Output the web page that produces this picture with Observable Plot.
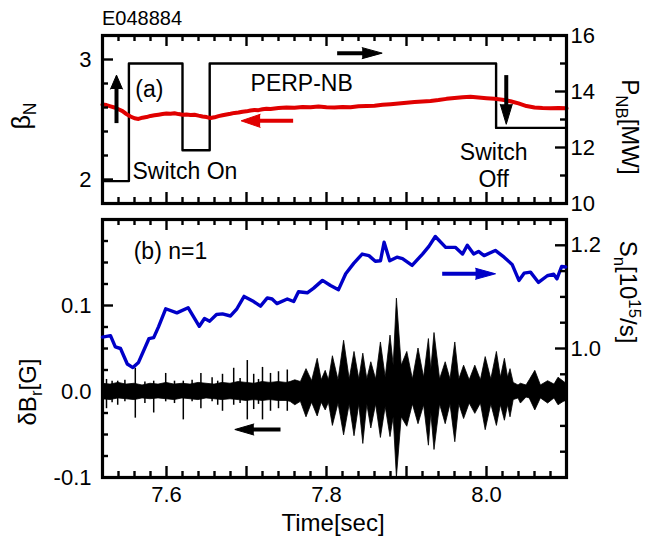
<!DOCTYPE html>
<html><head><meta charset="utf-8">
<script src="https://cdn.jsdelivr.net/npm/d3@7"></script>
<script src="https://cdn.jsdelivr.net/npm/@observablehq/plot@0.6"></script>
<style>
html,body{margin:0;padding:0;background:#fff;}
#wrap{position:relative;width:659px;height:537px;overflow:hidden;font-family:"Liberation Sans",Arial,Helvetica,sans-serif;color:#000;background:#fff;}
#wrap svg{position:absolute;left:0;top:0;}
.lab{position:absolute;white-space:nowrap;font-size:24px;line-height:1;}
.lab sub,.lab sup{font-size:70%;line-height:0;}
</style></head><body><div id="wrap"></div>
<script>
// ---------------- data: panel (a) ----------------
const betaT = [7.520,7.525,7.530,7.535,7.540,7.545,7.550,7.555,7.560,7.565,7.570,7.575,7.580,7.585,7.590,7.595,7.600,7.605,7.610,7.615,7.620,7.625,7.630,7.635,7.640,7.645,7.650,7.655,7.660,7.665,7.670,7.675,7.680,7.685,7.690,7.695,7.700,7.705,7.710,7.715,7.720,7.725,7.730,7.740,7.750,7.760,7.770,7.780,7.790,7.800,7.810,7.820,7.830,7.840,7.850,7.860,7.870,7.880,7.890,7.900,7.910,7.920,7.930,7.940,7.950,7.960,7.970,7.980,7.990,8.000,8.010,8.020,8.030,8.040,8.050,8.060,8.070,8.080,8.090,8.100];
const betaN = [2.625,2.620,2.610,2.600,2.585,2.570,2.545,2.525,2.510,2.505,2.515,2.520,2.530,2.535,2.540,2.545,2.550,2.548,2.552,2.545,2.540,2.542,2.538,2.540,2.532,2.525,2.520,2.512,2.518,2.528,2.535,2.542,2.548,2.555,2.558,2.565,2.568,2.575,2.580,2.578,2.585,2.590,2.588,2.595,2.600,2.598,2.605,2.602,2.608,2.603,2.600,2.605,2.602,2.610,2.612,2.615,2.622,2.628,2.634,2.640,2.645,2.650,2.655,2.662,2.672,2.680,2.686,2.690,2.684,2.678,2.672,2.665,2.652,2.634,2.612,2.600,2.596,2.594,2.596,2.593];
const pnbT  = [7.520, 7.553, 7.620, 7.654, 8.012, 8.100];
const pnbMW = [10.8, 15.0, 11.9, 15.0, 12.7, 12.7];

// ---------------- data: panel (b) ----------------
const snT = [7.520,7.530,7.536,7.5425,7.551,7.558,7.565,7.578,7.584,7.590,7.599,7.613,7.627,7.641,7.6475,7.654,7.6625,7.670,7.680,7.688,7.697,7.709,7.7175,7.726,7.732,7.738,7.751,7.759,7.765,7.776,7.784,7.795,7.805,7.815,7.824,7.834,7.8446,7.853,7.861,7.8675,7.872,7.879,7.888,7.895,7.907,7.920,7.928,7.936,7.949,7.961,7.970,7.976,7.984,7.990,7.997,8.011,8.022,8.032,8.0405,8.047,8.055,8.065,8.076,8.084,8.088,8.094,8.099];
const snV = [1.022,1.025,1.003,1.000,0.970,0.963,0.973,1.019,1.021,1.042,1.077,1.069,1.079,1.043,1.058,1.053,1.066,1.067,1.063,1.077,1.101,1.091,1.082,1.098,1.096,1.087,1.096,1.091,1.110,1.108,1.117,1.132,1.122,1.114,1.145,1.165,1.183,1.180,1.169,1.170,1.206,1.170,1.177,1.174,1.161,1.183,1.198,1.217,1.196,1.196,1.183,1.200,1.183,1.188,1.180,1.190,1.177,1.163,1.132,1.146,1.148,1.128,1.141,1.144,1.135,1.159,1.158];

// dBr: envelope of the oscillating trace (core band and burst peaks)
const envT  = [7.520,7.530,7.540,7.550,7.560,7.570,7.580,7.590,7.600,7.610,7.620,7.630,7.640,7.650,7.660,7.670,7.680,7.690,7.700,7.710,7.720,7.730,7.740,7.750,7.755,7.761,7.768,7.775,7.782,7.789,7.794,7.799,7.803,7.808,7.815,7.822,7.829,7.835,7.841,7.846,7.851,7.856,7.862,7.868,7.874,7.880,7.884,7.888,7.894,7.901,7.908,7.915,7.922,7.928,7.931,7.935,7.942,7.949,7.955,7.961,7.966,7.972,7.979,7.986,7.993,7.999,8.006,8.013,8.018,8.023,8.027,8.030,8.034,8.040,8.043,8.050,8.054,8.061,8.068,8.077,8.085,8.090,8.100];
const envHi = [0.009,0.008,0.010,0.008,0.009,0.007,0.009,0.008,0.010,0.008,0.009,0.008,0.010,0.009,0.008,0.010,0.009,0.011,0.010,0.009,0.011,0.010,0.011,0.010,0.011,0.013,0.011,0.026,0.012,0.038,0.013,0.024,0.013,0.041,0.013,0.059,0.014,0.046,0.014,0.044,0.014,0.034,0.014,0.057,0.016,0.065,0.030,0.108,0.030,0.046,0.014,0.050,0.016,0.061,0.025,0.068,0.014,0.034,0.014,0.057,0.014,0.030,0.013,0.030,0.013,0.040,0.014,0.046,0.016,0.038,0.016,0.026,0.010,0.007,0.009,0.007,0.013,0.024,0.007,0.012,0.008,0.016,0.009];
const envLo = [-0.009,-0.010,-0.008,-0.009,-0.010,-0.008,-0.009,-0.008,-0.009,-0.010,-0.008,-0.009,-0.010,-0.008,-0.009,-0.010,-0.009,-0.010,-0.011,-0.010,-0.011,-0.010,-0.011,-0.011,-0.012,-0.016,-0.012,-0.030,-0.013,-0.029,-0.013,-0.022,-0.013,-0.040,-0.014,-0.051,-0.015,-0.052,-0.015,-0.061,-0.015,-0.043,-0.015,-0.054,-0.018,-0.053,-0.030,-0.100,-0.030,-0.041,-0.015,-0.038,-0.016,-0.063,-0.025,-0.068,-0.015,-0.038,-0.015,-0.059,-0.015,-0.032,-0.014,-0.026,-0.014,-0.045,-0.015,-0.040,-0.016,-0.034,-0.016,-0.030,-0.010,-0.008,-0.014,-0.007,-0.008,-0.022,-0.008,-0.014,-0.008,-0.016,-0.010];
// dBr: thin single spikes in the quiet early phase
const spkT  = [7.525,7.532,7.539,7.548,7.561,7.573,7.584,7.599,7.610,7.621,7.632,7.643,7.657,7.664,7.670,7.684,7.692,7.701,7.709,7.715,7.720,7.730,7.740,7.751];
const spkHi = [0.014,0.012,0.012,0.013,0.027,0.011,0.012,0.021,0.012,0.012,0.013,0.021,0.016,0.012,0.020,0.027,0.015,0.036,0.020,0.014,0.028,0.021,0.023,0.025];
const spkLo = [-0.020,-0.013,-0.016,-0.012,-0.031,-0.014,-0.025,-0.012,-0.014,-0.033,-0.012,-0.020,-0.012,-0.016,-0.023,-0.016,-0.014,-0.033,-0.021,-0.015,-0.033,-0.023,-0.020,-0.023];

// ---------------- ticks ----------------
const xMajor = [7.6, 7.7, 7.8, 7.9, 8.0];
const xMinor = [7.54,7.56,7.58,7.62,7.64,7.66,7.68,7.72,7.74,7.76,7.78,7.82,7.84,7.86,7.88,7.92,7.94,7.96,7.98,8.02,8.04,8.06,8.08];
const xLabels = [7.6, 7.8, 8.0];
const betaMajor = [2, 3], betaMinor = [2.2, 2.4, 2.6, 2.8], betaLabels = [2, 3];
const pnbMajor = [12, 14], pnbMinor = [11, 13, 15], pnbLabels = [10, 12, 14, 16];
const dbMajor = [0.0, 0.1], dbMinor = [-0.075,-0.05,-0.025,0.025,0.05,0.075,0.125,0.15,0.175], dbLabels = [-0.1, 0.0, 0.1];
const snMajor = [1.0, 1.2], snMinor = [0.8, 0.85, 0.9, 0.95, 1.05, 1.1, 1.15], snLabels = [1.0, 1.2];

// ---------------- layout ----------------
const W = 659, H = 537, IW = 464, IHA = 168, IHB = 258;
const FF = '"Liberation Sans", Arial, Helvetica, sans-serif';
const baseStyle = {fontFamily: FF, fontSize: "22px", background: "transparent", color: "#000", overflow: "visible"};
const mA = {marginTop: 35, marginBottom: 334, marginLeft: 102, marginRight: 93};
const mB = {marginTop: 219, marginBottom: 60, marginLeft: 102, marginRight: 93};
const xDomain = [7.52, 8.10];
const MAJ = 11, MIN = 6, TW = 2.4;
const RED = "#e00000", BLUE = "#0000c8";

function xTicks(ih) {
  const o = {stroke: "#000", strokeWidth: TW};
  return [
    Plot.ruleX(xMajor, {...o, insetTop: ih - MAJ}),
    Plot.ruleX(xMinor, {...o, insetTop: ih - MIN}),
    Plot.ruleX(xMajor, {...o, insetBottom: ih - MAJ}),
    Plot.ruleX(xMinor, {...o, insetBottom: ih - MIN})
  ];
}
function yTicks(major, minor, side) {
  const o = {stroke: "#000", strokeWidth: TW};
  const k = side === "left" ? "insetRight" : "insetLeft";
  return [
    Plot.ruleY(major, {...o, [k]: IW - MAJ}),
    Plot.ruleY(minor, {...o, [k]: IW - MIN})
  ];
}
function arrow(a, color, pxX, pxY) {
  const dxp = (a.x2 - a.x1) * pxX, dyp = (a.y2 - a.y1) * pxY;
  const L = Math.hypot(dxp, dyp);
  const f = (a.len * 0.6) / L;
  const nx = a.x2 - (a.x2 - a.x1) * f, ny = a.y2 - (a.y2 - a.y1) * f;
  const rot = Math.atan2(dxp, dyp) * 180 / Math.PI;
  return [
    Plot.link([a], {x1: "x1", y1: "y1", x2: () => nx, y2: () => ny, stroke: color, strokeWidth: 4}),
    Plot.vector([a], {x: "x2", y: "y2", length: a.len, r: a.r, rotate: rot, shape: "spike", anchor: "end", fill: color, stroke: color, strokeWidth: 1})
  ];
}
const txt = (s, x, y, o = {}) => Plot.text([s], {x: () => x, y: () => y, text: d => d, fontSize: 23, fill: "#000", ...o});
const yLab = (vals, anchor, pad, fmt) => Plot.axisY(vals, {anchor, tickSize: 0, tickPadding: pad, tickFormat: fmt, fontSize: 22, label: null});

// ---- panel (a), right scale: P_NB ----
const pA2 = Plot.plot({
  width: W, height: H, ...mA, style: baseStyle,
  x: {domain: xDomain, axis: null, label: null},
  y: {domain: [10, 16], axis: null, label: null},
  marks: [
    Plot.line(pnbT.map((t, i) => ({t, p: pnbMW[i]})), {x: "t", y: "p", curve: "step-after", stroke: "#000", strokeWidth: 2.4}),
    ...yTicks(pnbMajor, pnbMinor, "right"),
    yLab(pnbLabels, "right", 4, d => String(d))
  ]
});
// ---- panel (a), left scale: beta_N ----
const pA1 = Plot.plot({
  width: W, height: H, ...mA, style: baseStyle,
  x: {domain: xDomain, axis: null, label: null},
  y: {domain: [1.8, 3.2], axis: null, label: null},
  marks: [
    Plot.line(betaT.map((t, i) => ({t, b: betaN[i]})), {x: "t", y: "b", stroke: RED, strokeWidth: 4, strokeLinejoin: "round"}),
    ...arrow({x1: 7.5375, y1: 2.47, x2: 7.5375, y2: 2.87, len: 14, r: 6}, "#000", 800, 120),
    ...arrow({x1: 8.0247, y1: 2.87, x2: 8.0247, y2: 2.46, len: 20, r: 6}, "#000", 800, 120),
    ...arrow({x1: 7.8133, y1: 3.053, x2: 7.8696, y2: 3.053, len: 20, r: 5.5}, "#000", 800, 120),
    ...arrow({x1: 7.7583, y1: 2.489, x2: 7.6933, y2: 2.489, len: 19, r: 6.5}, RED, 800, 120),
    txt("(a)", 7.561, 2.75, {textAnchor: "start"}),
    txt("PERP-NB", 7.769, 2.80),
    txt("Switch On", 7.5575, 2.067, {textAnchor: "start"}),
    txt("Switch\nOff", 8.009, 2.125, {lineHeight: 1.2}),
    ...xTicks(IHA),
    ...yTicks(betaMajor, betaMinor, "left"),
    yLab(betaLabels, "left", 11, d => String(d)),
    Plot.frame({stroke: "#000", strokeWidth: 3.2})
  ]
});
// ---- panel (b), left scale: dBr ----
const env = envT.map((t, i) => ({t, hi: envHi[i], lo: envLo[i]}));
const spk = spkT.map((t, i) => ({t, hi: spkHi[i], lo: spkLo[i]}));
const pB1 = Plot.plot({
  width: W, height: H, ...mB, style: baseStyle,
  x: {domain: xDomain, axis: null, label: null},
  y: {domain: [-0.1, 0.2], axis: null, label: null},
  marks: [
    Plot.areaY(env, {x: "t", y1: "lo", y2: "hi", fill: "#000", stroke: "#000", strokeWidth: 0.8, clip: true}),
    Plot.ruleX(spk, {x: "t", y1: "lo", y2: "hi", stroke: "#000", strokeWidth: 1.5, clip: true}),
    ...arrow({x1: 7.7425, y1: -0.0442, x2: 7.6854, y2: -0.0442, len: 19, r: 5.5}, "#000", 800, 860),
    txt("(b) n=1", 7.559, 0.163, {textAnchor: "start"}),
    ...xTicks(IHB),
    ...yTicks(dbMajor, dbMinor, "left"),
    yLab(dbLabels, "left", 11, d => d.toFixed(1)),
    Plot.axisX(xLabels, {anchor: "bottom", tickSize: 0, tickPadding: 9, tickFormat: d => d.toFixed(1), fontSize: 22, label: null}),
    Plot.frame({stroke: "#000", strokeWidth: 3.2})
  ]
});
// ---- panel (b), right scale: S_n ----
const pB2 = Plot.plot({
  width: W, height: H, ...mB, style: baseStyle,
  x: {domain: xDomain, axis: null, label: null},
  y: {domain: [0.75, 1.25], axis: null, label: null},
  marks: [
    Plot.line(snT.map((t, i) => ({t, s: snV[i]})), {x: "t", y: "s", stroke: BLUE, strokeWidth: 3.4, strokeLinejoin: "round"}),
    ...arrow({x1: 7.9446, y1: 1.1448, x2: 8.0113, y2: 1.1448, len: 20, r: 5.5}, BLUE, 800, 516),
    ...yTicks(snMajor, snMinor, "right"),
    yLab(snLabels, "right", 4, d => d.toFixed(1))
  ]
});

const wrap = document.getElementById("wrap");
[pA2, pA1, pB1, pB2].forEach(p => wrap.appendChild(p));

function addLabel(html, x, y, rot, size) {
  const d = document.createElement("div");
  d.className = "lab";
  d.innerHTML = html;
  d.style.left = x + "px"; d.style.top = y + "px";
  d.style.fontSize = size + "px";
  d.style.transform = `translate(-50%,-50%) rotate(${rot}deg)`;
  wrap.appendChild(d);
}
addLabel("E048884", 142, 18, 0, 20);
addLabel("β<sub>N</sub>", 21, 116, -90, 25);
addLabel("P<sub>NB</sub>[MW]", 630, 127, 90, 24);
addLabel("δB<sub>r</sub>[G]", 28, 392, -90, 24);
addLabel("S<sub>n</sub>[10<sup>15</sup>/s]", 628, 292, 90, 24);
addLabel("Time[sec]", 333, 523, 0, 24);
</script></body></html>
